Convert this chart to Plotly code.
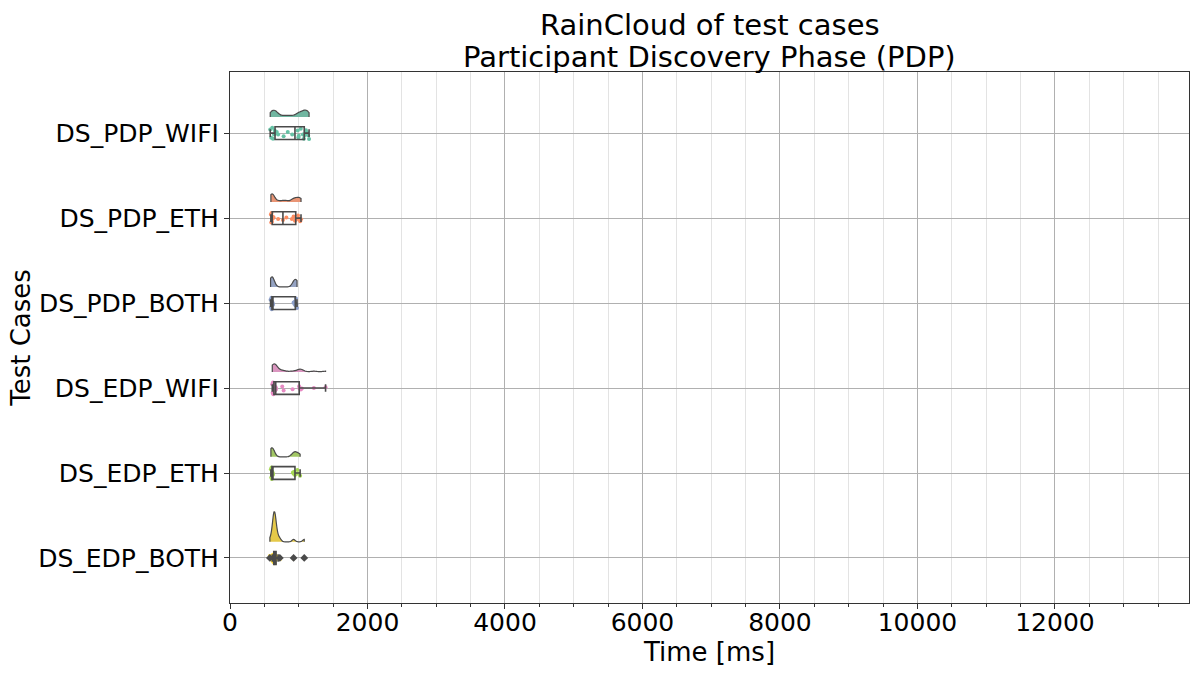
import numpy as np
import plotly.graph_objects as go

# ---------------- data ----------------
categories = ["DS_PDP_WIFI", "DS_PDP_ETH", "DS_PDP_BOTH",
              "DS_EDP_WIFI", "DS_EDP_ETH", "DS_EDP_BOTH"]

ds_pdp_wifi = [585, 600, 615, 625, 640, 650, 660, 680, 700, 780, 840, 905,
               985, 995, 1000, 1030, 1060, 1075, 1085, 1095, 1105, 1120, 1135, 1150]
ds_pdp_eth = [595, 600, 605, 610, 612, 618, 625, 633, 700, 770, 820, 900,
              925, 945, 960, 990, 1005, 1020, 1033]
ds_pdp_both = [590, 598, 603, 607, 610, 612, 615, 618, 620, 625,
               925, 935, 945, 950, 955, 960, 965, 975]
ds_edp_wifi = [615, 620, 625, 630, 635, 640, 645, 650, 655, 660, 665, 670,
               760, 780, 910, 1005, 1010, 1030, 1045, 1220, 1390]
ds_edp_eth = [595, 600, 605, 608, 610, 612, 615, 618, 620, 625,
              915, 925, 935, 945, 960, 980, 1000, 1020]
ds_edp_both = [580, 615, 625, 630, 635, 638, 640, 642, 645, 648, 650, 652,
               655, 660, 665, 675, 700, 725, 925, 1080]

series = [ds_pdp_wifi, ds_pdp_eth, ds_pdp_both, ds_edp_wifi, ds_edp_eth, ds_edp_both]

x_tick_values = [0, 2000, 4000, 6000, 8000, 10000, 12000]
x_tick_labels = [str(v) for v in x_tick_values]

title_lines = ["RainCloud of test cases", "Participant Discovery Phase (PDP)"]

# ---------------- styles ----------------
point_colors = ["#66c2a5", "#fc8d62", "#8da0cb", "#e78ac3", "#a6d854", "#ffd92f"]
cloud_colors = ["#71b6a1", "#e99575", "#95a3c3", "#db96c0", "#a2c764", "#e5c949"]
cloud_height_px = [7, 8, 10, 8, 9, 30]
LINE = "#4a4a4a"
FONT = "DejaVu Sans"

PLOT_H = 531
Y_RANGE = [-0.53, 5.72]
px_per_unit = PLOT_H / (Y_RANGE[1] - Y_RANGE[0])
cloud_offset = 0.19

fig = go.Figure()
n = len(categories)
for i, (cat, vals) in enumerate(zip(categories, series)):
    pos = n - 1 - i
    arr = np.asarray(vals, dtype=float)
    bw = 0.2 * arr.std(ddof=1)
    # cloud (half violin)
    fig.add_trace(go.Violin(
        x=vals, y0=pos + cloud_offset, orientation="h", side="positive",
        width=2 * cloud_height_px[i] / px_per_unit, spanmode="hard",
        bandwidth=bw, points=False, box_visible=False, meanline_visible=False,
        fillcolor=cloud_colors[i], opacity=1,
        line=dict(color=LINE, width=1.2), scalemode="width",
        showlegend=False, hoverinfo="skip", name=cat))
    # rain (jittered points)
    fig.add_trace(go.Box(
        x=vals, y0=pos, orientation="h", width=0.17,
        boxpoints="all", jitter=1, pointpos=0,
        fillcolor="rgba(0,0,0,0)", line=dict(color="rgba(0,0,0,0)", width=0),
        marker=dict(color=point_colors[i], size=4),
        showlegend=False, hoverinfo="x", name=cat))
    # box
    fig.add_trace(go.Box(
        x=vals, y0=pos, orientation="h", width=0.15,
        boxpoints="outliers", jitter=0, pointpos=0, whiskerwidth=0.6,
        fillcolor="rgba(0,0,0,0)", line=dict(color=LINE, width=1.6),
        marker=dict(color=LINE, symbol="diamond", size=6,
                    line=dict(color=LINE, width=0)),
        showlegend=False, hoverinfo="x", name=cat))

fig.update_layout(
    width=1200, height=675,
    margin=dict(l=230, r=11, t=72, b=72),
    paper_bgcolor="white", plot_bgcolor="white",
    font=dict(family=FONT, color="black"),
    boxmode="overlay", violinmode="overlay",
)

# two-line title, centred over the plotting area
for text, ypaper in zip(title_lines, [1 + 47 / PLOT_H, 1 + 15 / PLOT_H]):
    fig.add_annotation(text=text, x=0.5, xref="paper", xanchor="center",
                       y=ypaper, yref="paper", yanchor="middle",
                       showarrow=False,
                       font=dict(size=29, family=FONT, color="black"))

fig.update_xaxes(
    range=[0, 13950], tickvals=x_tick_values, ticktext=x_tick_labels,
    ticks="outside", ticklen=5, tickcolor="#333", ticklabelstandoff=-8,
    showgrid=True, gridcolor="#b0b0b0", gridwidth=1,
    minor=dict(dtick=500, ticks="outside", ticklen=3, tickcolor="#333",
               showgrid=True, gridcolor="#e3e3e3", gridwidth=1),
    showline=True, linecolor="#333", linewidth=1.2, mirror=True,
    zeroline=False,
    tickfont=dict(size=25, family=FONT, color="black"),
    title=dict(text="Time [ms]", font=dict(size=26, family=FONT, color="black"),
               standoff=0),
)
fig.update_yaxes(
    range=Y_RANGE,
    tickvals=[n - 1 - i for i in range(n)], ticktext=categories,
    ticks="outside", ticklen=5, tickcolor="#333",
    showgrid=True, gridcolor="#b0b0b0", gridwidth=1,
    showline=True, linecolor="#333", linewidth=1.2, mirror=True,
    zeroline=False,
    tickfont=dict(size=25, family=FONT, color="black"),
    title=dict(text="Test Cases", font=dict(size=26, family=FONT, color="black"),
               standoff=0),
)

fig.write_html("out.html")
